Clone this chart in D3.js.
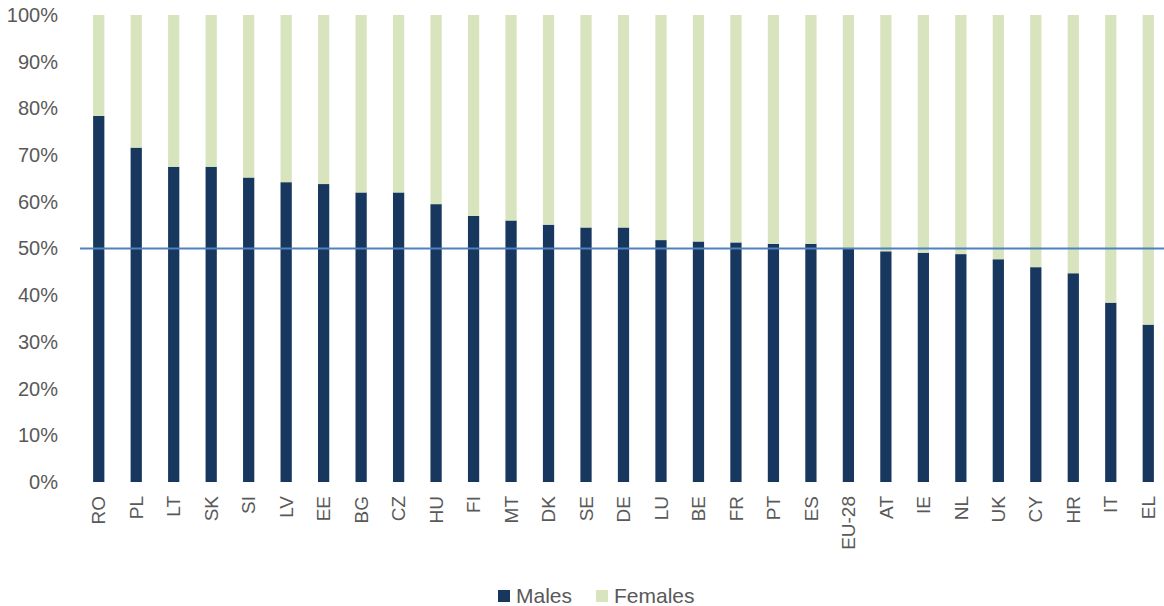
<!DOCTYPE html>
<html>
<head>
<meta charset="utf-8">
<script src="https://cdn.jsdelivr.net/npm/d3@7"></script>
<style>
  html, body { margin: 0; padding: 0; background: #fff; }
  svg { display: block; }
  text { font-family: "Liberation Sans", Arial, sans-serif; fill: #595959; }
</style>
</head>
<body>
<svg id="chart" width="1164" height="606"></svg>
<script>
// Share of males and females by country (%)
const countries = ["RO","PL","LT","SK","SI","LV","EE","BG","CZ","HU","FI","MT","DK","SE","DE",
                   "LU","BE","FR","PT","ES","EU-28","AT","IE","NL","UK","CY","HR","IT","EL"];
const males = [78.4, 71.6, 67.5, 67.5, 65.2, 64.2, 63.8, 62.0, 62.0, 59.5, 57.0, 56.0, 55.1, 54.5, 54.5,
               51.8, 51.5, 51.3, 51.0, 51.0, 50.0, 49.4, 49.1, 48.8, 47.7, 46.0, 44.7, 38.4, 33.7];
const females = males.map(m => +(100 - m).toFixed(1));
const yTicks = [0, 10, 20, 30, 40, 50, 60, 70, 80, 90, 100];
const seriesNames = ["Males", "Females"];
const colors = { Males: "#17375e", Females: "#d7e4bd" };
const referenceLine = 50;

const svg = d3.select("#chart");
const margin = { left: 80, right: -3, top: 15, bottom: 124 };
const width = 1164, height = 606;

const x = d3.scaleBand().domain(countries).range([margin.left, width - margin.right]).padding(0);
const y = d3.scaleLinear().domain([0, 100]).range([height - margin.bottom, margin.top]);
const barW = x.bandwidth() * 0.3;

const rows = countries.map((c, i) => ({ country: c, Males: males[i], Females: females[i] }));
const stacked = d3.stack().keys(seriesNames)(rows);

// stacked columns
svg.append("g").selectAll("g")
  .data(stacked).join("g")
  .attr("fill", d => colors[d.key])
  .selectAll("rect")
  .data(d => d).join("rect")
  .attr("x", d => x(d.data.country) + x.bandwidth() / 2 - barW / 2)
  .attr("width", barW)
  .attr("y", d => y(d[1]))
  .attr("height", d => y(d[0]) - y(d[1]));

// y axis labels
const yAxis = d3.axisLeft(y).tickValues(yTicks).tickFormat(d => d + "%").tickSize(0).tickPadding(22);
const gy = svg.append("g").attr("transform", `translate(${margin.left},0)`).call(yAxis);
gy.select(".domain").remove();
gy.selectAll("text").style("font-size", "20px").style("fill", "#595959")
  .style("font-family", "'Liberation Sans', Arial, sans-serif");

// x axis labels, rotated
const xAxis = d3.axisBottom(x).tickSize(0).tickPadding(0);
const gx = svg.append("g").attr("transform", `translate(0,${y(0)})`).call(xAxis);
gx.select(".domain").remove();
gx.selectAll("text")
  .style("font-size", "19px").style("fill", "#595959")
  .style("font-family", "'Liberation Sans', Arial, sans-serif")
  .attr("text-anchor", "end")
  .attr("dy", "0.35em")
  .attr("transform", "translate(0,14) rotate(-90)")
  .attr("x", 0).attr("y", 0);

// 50% reference line
svg.append("line")
  .attr("x1", margin.left).attr("x2", width)
  .attr("y1", y(referenceLine)).attr("y2", y(referenceLine))
  .attr("stroke", "#4f81bd").attr("stroke-width", 2);

// legend
const legend = svg.append("g").attr("transform", "translate(498,590)");
const legendX = { Males: 0, Females: 98 };
seriesNames.forEach(name => {
  const g = legend.append("g").attr("transform", `translate(${legendX[name]},0)`);
  g.append("rect").attr("width", 12).attr("height", 12).attr("fill", colors[name]);
  g.append("text").attr("x", 18).attr("y", 6).attr("dy", "0.35em")
    .style("font-size", "21px").text(name);
});
</script>
</body>
</html>
